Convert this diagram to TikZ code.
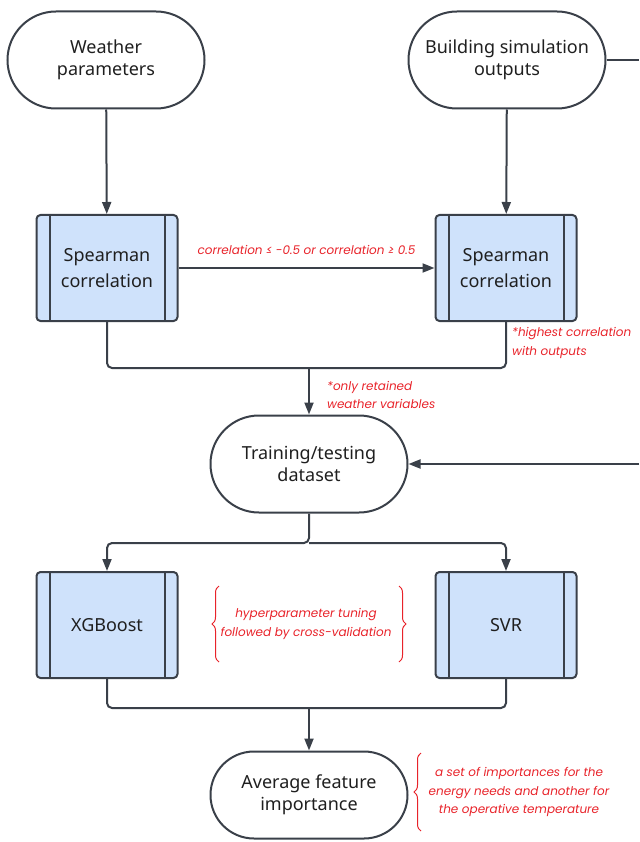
\documentclass[tikz,border=0pt]{standalone}
\usepackage{fontspec}
\setmainfont{Noto Sans}
\newfontfamily\notefont{Poppins}
\usetikzlibrary{shapes.misc,arrows.meta,decorations.pathreplacing,calc}
\definecolor{ink}{HTML}{3A4049}
\definecolor{boxfill}{HTML}{CFE2FB}
\definecolor{note}{HTML}{E8232A}
\definecolor{txt}{HTML}{1F1F1F}
\begin{document}
\begin{tikzpicture}[x=1pt,y=-1pt,
  term/.style={draw=ink, line width=2pt, rounded rectangle, minimum width=197pt, minimum height=97pt, inner sep=0pt, align=center, text=txt, font=\fontsize{18}{22.5}\selectfont},
  proc/.style={draw=ink, fill=boxfill, line width=2pt, rounded corners=4pt, minimum width=141pt, minimum height=106pt, inner sep=0pt, align=center, text=txt, font=\fontsize{18}{26}\selectfont},
  conn/.style={draw=ink, line width=2pt, rounded corners=5pt},
  arr/.style={conn, -{Triangle[length=12pt,width=9pt]}},
  notetxt/.style={text=note, inner sep=0pt, font=\notefont\itshape\fontsize{12}{18.5}\selectfont},
  bracestyle/.style={draw=note, line width=1pt, decorate, decoration={brace, amplitude=7pt}}
]
\useasboundingbox (0,0) rectangle (639,842);

% nodes
\node[term] (w) at (106,60) {Weather\\parameters};
\node[term] (b) at (507,60) {Building simulation\\outputs};
\node[proc] (sp1) at (107,268) {Spearman\\correlation};
\node[proc] (sp2) at (506,268) {Spearman\\correlation};
\node[term] (tr) at (309,464) {Training/testing\\dataset};
\node[proc] (xg) at (107,625) {XGBoost};
\node[proc] (svr) at (506,625) {SVR};
\node[term, minimum height=87pt] (avg) at (309,795) {Average feature\\importance};

% inner vertical lines of process boxes
\foreach \n in {sp1,sp2,xg,svr}{
  \draw[ink, line width=2pt] ($(\n.north west)+(14,0)$) -- ($(\n.south west)+(14,0)$);
  \draw[ink, line width=2pt] ($(\n.north east)+(-14,0)$) -- ($(\n.south east)+(-14,0)$);
}

% helper coordinates
\coordinate (jc) at (309,368);
\coordinate (js) at (309,543);
\coordinate (jb) at (309,708);
\coordinate (bout) at (639,60);
\coordinate (tin) at (639,464);

% connectors
\draw[arr] (w) -- (sp1);
\draw[arr] (b) -- (sp2);
\draw[arr] (sp1) -- node[notetxt, above=12pt] (lab1) {correlation ≤ -0.5 or correlation ≥ 0.5} (sp2);
\draw[conn] (sp1.south) |- (jc);
\draw[conn] (sp2.south) |- (jc);
\draw[arr] (jc) -- (tr.north);
\draw[conn] (b.east) -- (bout);
\draw[arr] (tin) -- (tr.east);
\draw[arr] (tr.south) -- (js) -| (xg.north);
\draw[arr] (js) -| (svr.north);
\draw[conn] (xg.south) |- (jb);
\draw[conn] (svr.south) |- (jb);
\draw[arr] (jb) -- (avg.north);

% notes
\node[notetxt, anchor=west, align=left] (n1) at (512,343) {*highest correlation\\with outputs};
\node[notetxt, anchor=west, align=left] (n2) at (327,395) {*only retained\\weather variables};
\node[notetxt, align=center] (n3) at (306,624) {hyperparameter tuning\\followed by cross-validation};
\node[notetxt, align=center] (n4) at (519,792) {a set of importances for the\\energy needs and another for\\the operative temperature};

% braces
\coordinate (b1a) at (219,662); \coordinate (b1b) at (219,586);
\coordinate (b2a) at (399,586); \coordinate (b2b) at (399,662);
\coordinate (b3a) at (421,831); \coordinate (b3b) at (421,753);
\draw[bracestyle] (b1a) -- (b1b);
\draw[bracestyle] (b2a) -- (b2b);
\draw[bracestyle] (b3a) -- (b3b);
\end{tikzpicture}
\end{document}
